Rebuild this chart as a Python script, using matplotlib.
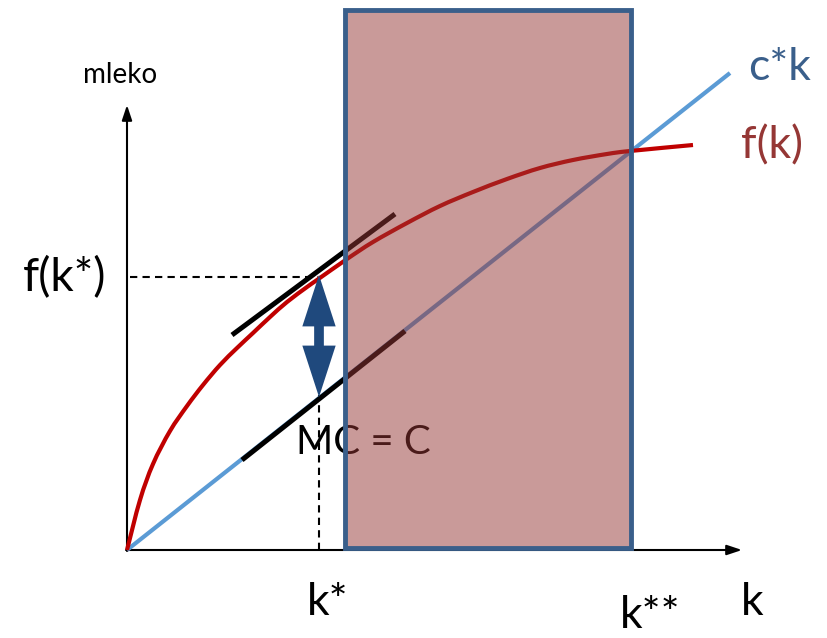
import numpy as np
import matplotlib
matplotlib.use('Agg')
import matplotlib.pyplot as plt
from matplotlib.patches import Rectangle, PathPatch, FancyArrowPatch
from matplotlib.path import Path

plt.rcParams['font.family'] = ['Lato', 'DejaVu Sans']

# f(k) curve (origin at axis corner)
k_vals = [0, 13, 26, 43, 60, 76, 93, 110, 126, 143, 160, 180, 190, 220, 246,
          280, 313, 346, 380, 413, 446, 480, 503, 566]
f_vals = [0, 50, 86, 119, 144, 165, 185, 202, 217, 233, 248, 263, 270, 291, 308,
          327, 344, 358, 371, 382, 390, 396, 399, 405]

# c*k line
ck_k = [0, 603]
ck_vals = [0, 477]

# tangent segments (slope c)
tan_top_k = [105, 268]
tan_top_v = [215, 336]
tan_low_k = [115, 278]
tan_low_v = [90, 219]

k_star = 192
f_star = 273
ck_star = 155

# shaded region k* .. k**
rect_k0, rect_k1 = 218, 504
rect_v0, rect_v1 = 2, 540


def smooth_path(xs, ys):
    # Catmull-Rom through the read points, drawn as cubic Bezier segments
    P = np.column_stack([xs, ys]).astype(float)
    verts = [P[0]]
    codes = [Path.MOVETO]
    n = len(P)
    for i in range(n - 1):
        p0 = P[max(i - 1, 0)]
        p1 = P[i]
        p2 = P[i + 1]
        p3 = P[min(i + 2, n - 1)]
        verts += [p1 + (p2 - p0) / 6, p2 - (p3 - p1) / 6, p2]
        codes += [Path.CURVE4] * 3
    return Path(verts, codes)


fig = plt.figure(figsize=(8.27, 6.38), dpi=100)
ax = fig.add_axes([0, 0, 1, 1])
ax.set_xlim(-127, 700)
ax.set_ylim(-88, 550)
ax.axis('off')

# axes with arrows
ax.annotate('', xy=(0, 445), xytext=(0, -1),
            arrowprops=dict(arrowstyle='-|>,head_length=0.9,head_width=0.3',
                            color='black', lw=1.5, shrinkA=0, shrinkB=0))
ax.annotate('', xy=(615, 0), xytext=(-1, 0),
            arrowprops=dict(arrowstyle='-|>,head_length=0.9,head_width=0.3',
                            color='black', lw=1.5, shrinkA=0, shrinkB=0))

# dashed guides
ax.plot([3, k_star - 1], [f_star, f_star], ls=(0, (3.5, 2.5)), color='black', lw=1.5, zorder=2)
ax.plot([k_star, k_star], [0, ck_star], ls=(0, (3.5, 2.5)), color='black', lw=1.5, zorder=2)

# curves
ax.plot(ck_k, ck_vals, color='#5B9BD5', lw=3, solid_capstyle='butt', zorder=3)
ax.add_patch(PathPatch(smooth_path(k_vals, f_vals), facecolor='none',
                       edgecolor='#C00000', lw=3, capstyle='butt', zorder=3))
ax.plot(tan_top_k, tan_top_v, color='black', lw=3.6, solid_capstyle='butt', zorder=4)
ax.plot(tan_low_k, tan_low_v, color='black', lw=3.6, solid_capstyle='butt', zorder=4)

# double arrow: two simple arrows from the middle
mid = (f_star + ck_star) / 2
for tip in (f_star + 2, ck_star - 2):
    ax.add_patch(FancyArrowPatch((k_star, mid), (k_star, tip),
                                 arrowstyle='simple,head_length=37,head_width=24,tail_width=7',
                                 mutation_scale=1, color='#1F497D', lw=0,
                                 shrinkA=0, shrinkB=0, zorder=5))

ax.text(236, 107, 'MC = C', fontsize=29, ha='center', va='center', color='black', zorder=5)

# shaded rectangle on top
ax.add_patch(Rectangle((rect_k0, rect_v0), rect_k1 - rect_k0, rect_v1 - rect_v0,
                       facecolor='#943634', alpha=0.5, edgecolor='none', zorder=6))
ax.add_patch(Rectangle((rect_k0, rect_v0), rect_k1 - rect_k0, rect_v1 - rect_v0,
                       facecolor='none', edgecolor='#3A5F8B', lw=3.5, zorder=7))

# labels
ax.text(-7, 475, 'mleko', fontsize=20, ha='center', va='center')
ax.text(-62, 272, 'f(k*)', fontsize=33, ha='center', va='center')
ax.text(201, -65, 'k*', fontsize=32, ha='center', va='baseline')
ax.text(523, -78, 'k**', fontsize=32, ha='center', va='baseline')
ax.text(625, -65, 'k', fontsize=32, ha='center', va='baseline')
ax.text(653, 482, 'c*k', fontsize=32, ha='center', va='center', color='#3A5F8B')
ax.text(645, 404, 'f(k)', fontsize=32, ha='center', va='center', color='#953735')

plt.savefig('out.png', dpi=100)
